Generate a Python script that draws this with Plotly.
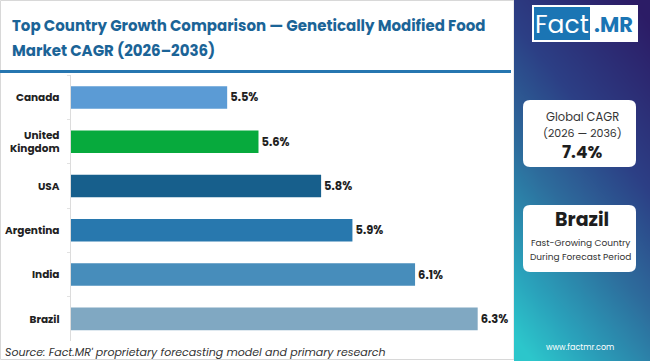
import plotly.graph_objects as go
import numpy as np

# ---- data ----
countries = ["Canada", "United<br>Kingdom", "USA", "Argentina", "India", "Brazil"]
cagr = [5.5, 5.6, 5.8, 5.9, 6.1, 6.3]
bar_colors = ["#5b9bd5", "#07aa3d", "#175f8c", "#2878ae", "#478dbb", "#80a8c2"]
value_labels = ["5.5%", "5.6%", "5.8%", "5.9%", "6.1%", "6.3%"]
title_lines = ["Top Country Growth Comparison — Genetically Modified Food",
               "Market CAGR (2026–2036)"]
source_text = "Source: Fact.MR' proprietary forecasting model and primary research"
global_cagr = "7.4%"
top_country = "Brazil"

W, H = 650, 361
def px(x): return x / W
def py(y): return 1 - y / H

FONT = "Poppins, Open Sans, Lato, sans-serif"

fig = go.Figure()

fig.add_trace(go.Bar(
    x=cagr, y=countries, orientation="h",
    marker=dict(color=bar_colors, line=dict(width=0)),
    width=0.51,
    text=value_labels, textposition="outside", cliponaxis=False,
    textfont=dict(family=FONT, size=11.5, color="#1e1e1e", weight="bold"),
    xaxis="x", yaxis="y", hoverinfo="skip",
))

# gradient panel as heatmap
PX0 = 514
gx = np.linspace(PX0, W, 30)
gy = np.linspace(0, H, 60)
GX, GY = np.meshgrid(gx, gy)
Z = 0.75 * (GY / H) + 0.35 * (1 - (GX - PX0) / (W - PX0))
fig.add_trace(go.Heatmap(
    x=gx, y=gy, z=Z, xaxis="x2", yaxis="y2", showscale=False, hoverinfo="skip",
    zsmooth="best",
    colorscale=[[0, "#2c1c66"], [0.35, "#2c3f85"], [0.6, "#2d6c9c"], [0.85, "#2aa2bb"], [1, "#2cc6cb"]],
    zmin=0.05, zmax=1.05,
))

x0d, x1d = px(70.6), px(509)
fig.update_layout(
    width=W, height=H, autosize=False,
    margin=dict(l=0, r=0, t=0, b=0),
    paper_bgcolor="white", plot_bgcolor="white",
    showlegend=False,
    xaxis=dict(domain=[x0d, x1d], range=[5.0, 6.4], visible=False, fixedrange=True),
    yaxis=dict(domain=[py(341), py(75.3)], autorange="reversed",
               showline=True, linecolor="#dcdcdc", linewidth=1,
               tickson="boundaries", ticks="outside", ticklen=3, tickcolor="#e2e2e2",
               ticklabelstandoff=8,
               tickfont=dict(family=FONT, size=10.5, color="#222222", weight="bold"),
               showgrid=False, zeroline=False, fixedrange=True),
    xaxis2=dict(domain=[px(PX0), 1], range=[PX0, W], visible=False, fixedrange=True),
    yaxis2=dict(domain=[0, 1], range=[H, 0], visible=False, fixedrange=True),
)

shapes = []
# border around white area
shapes.append(dict(type="rect", xref="paper", yref="paper", x0=px(0.5), x1=px(PX0), y0=py(359.5), y1=py(0.5),
                   line=dict(color="#d8d8d8", width=1), layer="below"))
# title underline
shapes.append(dict(type="line", xref="paper", yref="paper", x0=0, x1=px(511), y0=py(71.5), y1=py(71.5),
                   line=dict(color="#2676b0", width=3)))

def rrect(x0, y0, x1, y1, r):
    return (f"M{x0+r},{y0} L{x1-r},{y0} Q{x1},{y0} {x1},{y0+r} L{x1},{y1-r} Q{x1},{y1} {x1-r},{y1} "
            f"L{x0+r},{y1} Q{x0},{y1} {x0},{y1-r} L{x0},{y0+r} Q{x0},{y0} {x0+r},{y0} Z")

# cards
for (y0, y1) in [(100, 167), (205, 272)]:
    shapes.append(dict(type="path", xref="x2", yref="y2", path=rrect(523, y0, 636, y1, 7),
                       fillcolor="white", line=dict(width=0), layer="above"))
# logo
shapes.append(dict(type="rect", xref="x2", yref="y2", x0=532, x1=638, y0=5, y1=42,
                   fillcolor="white", line=dict(width=0), layer="above"))
shapes.append(dict(type="rect", xref="x2", yref="y2", x0=534, x1=590, y0=7, y1=40,
                   fillcolor="#1b75b4", line=dict(width=0), layer="above"))
fig.update_layout(shapes=shapes)

ann = []
ann.append(dict(text=f"<b>{title_lines[0]}</b>", x=px(10), y=py(26), xanchor="left", yanchor="middle",
                font=dict(family=FONT, size=15, color="#1b6497")))
ann.append(dict(text=f"<b>{title_lines[1]}</b>", x=px(10), y=py(50), xanchor="left", yanchor="middle",
                font=dict(family=FONT, size=15, color="#1b6497")))
ann.append(dict(text=f"<i>{source_text}</i>", x=px(3), y=py(352), xanchor="left", yanchor="middle",
                font=dict(family=FONT, size=11, color="#333333")))
# logo text
ann.append(dict(text="Fact", x=px(562), y=py(24), xanchor="center", yanchor="middle",
                font=dict(family=FONT, size=25, color="white")))
ann.append(dict(text="<b>.MR</b>", x=px(613), y=py(24), xanchor="center", yanchor="middle",
                font=dict(family=FONT, size=21, color="#1b75b4")))
# card 1
ann.append(dict(text="Global CAGR", x=px(582), y=py(117), xanchor="center", yanchor="middle",
                font=dict(family=FONT, size=11.5, color="#333333")))
ann.append(dict(text="(2026 — 2036)", x=px(582), y=py(133), xanchor="center", yanchor="middle",
                font=dict(family=FONT, size=11, color="#333333")))
ann.append(dict(text=f"<b>{global_cagr}</b>", x=px(582), y=py(152), xanchor="center", yanchor="middle",
                font=dict(family=FONT, size=17, color="#1e1e1e")))
# card 2
ann.append(dict(text=f"<b>{top_country}</b>", x=px(582), y=py(219), xanchor="center", yanchor="middle",
                font=dict(family=FONT, size=19, color="#1e1e1e")))
ann.append(dict(text="Fast-Growing Country", x=px(580), y=py(243), xanchor="center", yanchor="middle",
                font=dict(family=FONT, size=9, color="#333333")))
ann.append(dict(text="During Forecast Period", x=px(580), y=py(257), xanchor="center", yanchor="middle",
                font=dict(family=FONT, size=9, color="#333333")))
ann.append(dict(text="www.factmr.com", x=px(580), y=py(347), xanchor="center", yanchor="middle",
                font=dict(family=FONT, size=8, color="white")))
for a in ann:
    a.update(xref="paper", yref="paper", showarrow=False)
fig.update_layout(annotations=ann)

fig.write_html("out.html", config={"displayModeBar": False},
               post_script="document.body.style.margin='0';document.body.style.overflow='hidden';")
